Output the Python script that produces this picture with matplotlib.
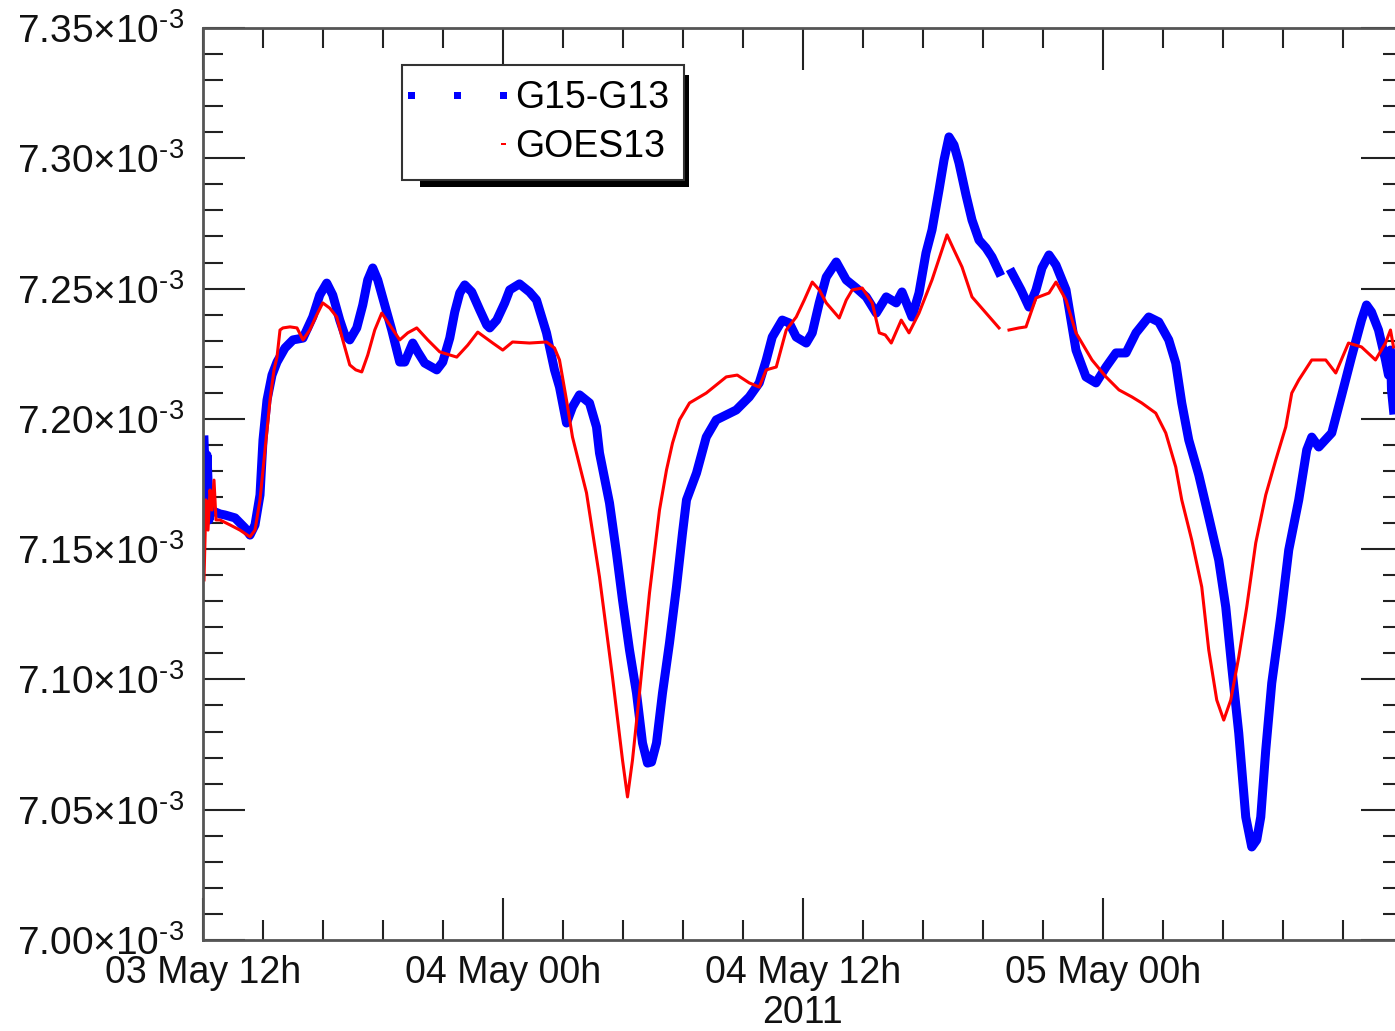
import numpy as np
import matplotlib.pyplot as plt
from matplotlib.lines import Line2D
from matplotlib.patches import Rectangle
from matplotlib.transforms import IdentityTransform
from matplotlib.ticker import MultipleLocator, FixedLocator, FuncFormatter

plt.rcParams['font.family'] = ['Liberation Sans', 'DejaVu Sans']
plt.rcParams['mathtext.fontset'] = 'custom'
plt.rcParams['mathtext.rm'] = 'Liberation Sans'
plt.rcParams['mathtext.it'] = 'Liberation Sans:italic'

# czas w godzinach od 03 May 2011 12:00, wartosci w jednostkach 1e-3
g15_hours = [0.04, 0.08, 0.12, 0.16, 0.20, 0.24, 0.28, 0.36, 0.48, 0.68, 0.88, 1.28, 1.68, 1.88, 2.08,
             2.28, 2.40, 2.56, 2.76, 2.96, 3.28, 3.60, 4.00, 4.19, 4.39, 4.67, 4.95, 5.19, 5.47, 5.67,
             5.87, 6.15, 6.39, 6.59, 6.79, 6.99, 7.27, 7.55, 7.87, 8.07, 8.27, 8.39, 8.59, 8.87, 9.35,
             9.59, 9.87, 10.07, 10.27, 10.47, 10.75, 11.07, 11.35, 11.47, 11.75, 12.07, 12.27, 12.66,
             13.06, 13.34, 13.74, 14.06, 14.26, 14.54, 14.78, 15.06, 15.46, 15.74, 15.86, 16.26, 16.54,
             16.78, 17.06, 17.34, 17.58, 17.78, 17.94, 18.14, 18.38, 18.66, 18.94, 19.18, 19.34, 19.74,
             20.13, 20.53, 20.93, 21.33, 21.85, 22.25, 22.53, 22.77, 23.17, 23.45, 23.73, 24.13, 24.37,
             24.65, 24.93, 25.33, 25.73, 26.13, 26.53, 26.93, 27.33, 27.73, 27.96, 28.36, 28.64, 28.92,
             29.16, 29.44, 29.64, 29.84, 30.04, 30.24, 30.52, 30.76, 31.04, 31.32, 31.56, 31.84, 32.10,
             32.36, 32.72, 33.04, 33.32, 33.56, 33.84, 34.12, 34.52, 34.72, 34.92, 35.32, 35.72, 36.12,
             36.52, 36.92, 37.32, 37.83, 38.23, 38.63, 38.91, 39.15, 39.43, 39.83, 40.23, 40.63, 40.91,
             41.15, 41.43, 41.71, 41.95, 42.15, 42.31, 42.51, 42.75, 43.11, 43.43, 43.83, 44.15, 44.35,
             44.63, 45.15, 45.55, 45.94, 46.34, 46.54, 46.74, 47.02, 47.30, 47.42, 47.50, 47.54, 47.62]
g15_vals = [7.1919, 7.1804, 7.1689, 7.1861, 7.1765, 7.1612, 7.1669, 7.1650, 7.1643, 7.1635, 7.1631,
            7.1620, 7.1581, 7.1554, 7.1593, 7.1708, 7.1919, 7.2072, 7.2168, 7.2218, 7.2272, 7.2303,
            7.2310, 7.2349, 7.2391, 7.2475, 7.2521, 7.2475, 7.2379, 7.2322, 7.2303, 7.2349, 7.2437,
            7.2533, 7.2579, 7.2533, 7.2437, 7.2341, 7.2218, 7.2218, 7.2264, 7.2291, 7.2257, 7.2214,
            7.2188, 7.2218, 7.2310, 7.2410, 7.2483, 7.2514, 7.2487, 7.2418, 7.2360, 7.2349, 7.2379,
            7.2445, 7.2495, 7.2518, 7.2487, 7.2456, 7.2330, 7.2188, 7.2122, 7.1984, 7.2046, 7.2092,
            7.2061, 7.1969, 7.1869, 7.1677, 7.1485, 7.1305, 7.1113, 7.0948, 7.0756, 7.0679, 7.0683,
            7.0756, 7.0948, 7.1140, 7.1355, 7.1562, 7.1689, 7.1792, 7.1930, 7.1996, 7.2015, 7.2034,
            7.2084, 7.2138, 7.2226, 7.2314, 7.2379, 7.2368, 7.2314, 7.2291, 7.2330, 7.2445, 7.2544,
            7.2602, 7.2533, 7.2502, 7.2468, 7.2406, 7.2468, 7.2445, 7.2487, 7.2391, 7.2483, 7.2637,
            7.2725, 7.2878, 7.2993, 7.3082, 7.3051, 7.2982, 7.2859, 7.2763, 7.2686, 7.2656, 7.2621,
            7.2564, np.nan, 7.2560, 7.2495, 7.2429, 7.2495, 7.2579, 7.2629, 7.2590, 7.2495, 7.2379,
            7.2264, 7.2161, 7.2138, 7.2199, 7.2253, 7.2253, 7.2330, 7.2391, 7.2372, 7.2303, 7.2214,
            7.2061, 7.1919, 7.1785, 7.1623, 7.1458, 7.1278, 7.1048, 7.0794, 7.0472, 7.0357, 7.0384,
            7.0472, 7.0729, 7.0986, 7.1240, 7.1497, 7.1689, 7.1881, 7.1930, 7.1892, 7.1946, 7.2092,
            7.2237, 7.2379, 7.2437, 7.2410, 7.2341, 7.2226, 7.2168, 7.2264, 7.2111, 7.2034]

goes13_hours = [0.04, 0.08, 0.12, 0.20, 0.28, 0.36, 0.44, 0.52, 0.68, 1.08, 1.48, 1.88, 2.08, 2.28,
                2.48, 2.68, 2.84, 2.96, 3.08, 3.20, 3.48, 3.76, 4.00, 4.27, 4.55, 4.79, 5.07, 5.35,
                5.59, 5.87, 6.11, 6.35, 6.59, 6.87, 7.15, 7.47, 7.87, 8.19, 8.55, 8.99, 9.47, 10.15,
                10.59, 10.99, 11.59, 11.99, 12.38, 13.06, 13.74, 14.06, 14.26, 14.54, 14.78, 15.06,
                15.34, 15.86, 16.38, 16.78, 16.98, 17.18, 17.46, 17.86, 18.26, 18.54, 18.78, 19.06,
                19.46, 20.13, 20.53, 20.93, 21.37, 21.85, 22.25, 22.53, 22.93, 23.33, 23.73, 24.05,
                24.37, 24.65, 24.93, 25.45, 25.73, 25.97, 26.37, 26.77, 27.05, 27.29, 27.53, 27.93,
                28.24, 28.64, 29.16, 29.56, 29.76, 30.04, 30.36, 30.76, 31.32, 31.84, 32.04, 32.24,
                32.64, 32.92, 33.32, 33.84, 34.12, 34.52, 34.92, 35.56, 36.12, 36.64, 37.16, 37.55,
                38.11, 38.51, 38.91, 39.15, 39.55, 39.95, 40.23, 40.55, 40.83, 41.11, 41.43, 41.75,
                42.11, 42.51, 42.91, 43.31, 43.55, 43.83, 44.35, 44.91, 45.31, 45.82, 46.34, 46.90,
                47.30, 47.50, 47.62]
goes13_vals = [7.1382, 7.1535, 7.1689, 7.1573, 7.1727, 7.1650, 7.1765, 7.1612, 7.1612, 7.1593, 7.1573,
               7.1547, 7.1573, 7.1689, 7.1881, 7.2072, 7.2188, 7.2237, 7.2341, 7.2349, 7.2353, 7.2349,
               7.2303, 7.2341, 7.2399, 7.2445, 7.2425, 7.2391, 7.2303, 7.2207, 7.2188, 7.2180, 7.2245,
               7.2341, 7.2406, 7.2360, 7.2303, 7.2330, 7.2349, 7.2303, 7.2257, 7.2237, 7.2283, 7.2333,
               7.2291, 7.2264, 7.2295, 7.2291, 7.2295, 7.2272, 7.2226, 7.2072, 7.1930, 7.1823, 7.1716,
               7.1393, 7.1009, 7.0691, 7.0549, 7.0691, 7.0948, 7.1332, 7.1650, 7.1804, 7.1907, 7.1996,
               7.2061, 7.2099, 7.2130, 7.2161, 7.2168, 7.2138, 7.2122, 7.2188, 7.2199, 7.2341, 7.2391,
               7.2456, 7.2525, 7.2495, 7.2445, 7.2387, 7.2456, 7.2495, 7.2502, 7.2445, 7.2330, 7.2322,
               7.2291, 7.2379, 7.2330, 7.2406, 7.2533, 7.2648, 7.2706, 7.2648, 7.2583, 7.2468, 7.2406,
               7.2349, np.nan, 7.2341, 7.2349, 7.2353, 7.2464, 7.2483, 7.2525, 7.2456, 7.2330, 7.2226,
               7.2161, 7.2111, 7.2084, 7.2061, 7.2022, 7.1946, 7.1815, 7.1689, 7.1535, 7.1355, 7.1113,
               7.0921, 7.0844, 7.0921, 7.1086, 7.1278, 7.1524, 7.1708, 7.1842, 7.1969, 7.2099, 7.2149,
               7.2226, 7.2226, 7.2176, 7.2291, 7.2276, 7.2226, 7.2291, 7.2341, 7.2276]

tick_hours = [0, 12, 24, 36, 48]
tick_labels = ["03 May 12h", "04 May 00h", "04 May 12h", "05 May 00h", ""]


def y_label(v, pos):
    return r"$\mathregular{%.2f{\times}10^{\text{-}3}}$" % (v * 1e3)


class DotsHandler:
    # kropki w uchwycie legendy, liczone od prawego konca (w punktach)
    def __init__(self, color, offsets, w, h):
        self.color, self.offsets, self.w, self.h = color, offsets, w, h

    def legend_artist(self, legend, orig_handle, fontsize, handlebox):
        x0, y0 = -handlebox.xdescent, -handlebox.ydescent
        xr, yc = x0 + handlebox.width, y0 + handlebox.height / 2
        first = None
        for off in self.offsets:
            p = Rectangle((xr - off - self.w / 2, yc - self.h / 2), self.w, self.h,
                          facecolor=self.color, edgecolor='none', transform=handlebox.get_transform())
            handlebox.add_artist(p)
            first = first or p
        return first


fig = plt.figure(figsize=(13.95, 10.31), dpi=100)
ax = fig.add_axes([203 / 1395, 91 / 1031, 1200 / 1395, 912 / 1031])

ax.plot(g15_hours, np.array(g15_vals) * 1e-3, color='#0000ff', lw=6.5)
ax.plot(goes13_hours, np.array(goes13_vals) * 1e-3, color='#ff0000', lw=2.2)

ax.set_xlim(0, 48)
ax.set_ylim(7.0e-3, 7.35e-3)
ax.xaxis.set_major_locator(FixedLocator(tick_hours))
ax.xaxis.set_minor_locator(MultipleLocator(2.4))
ax.set_xticklabels(tick_labels)
ax.yaxis.set_major_locator(MultipleLocator(0.05e-3))
ax.yaxis.set_minor_locator(MultipleLocator(0.01e-3))
ax.yaxis.set_major_formatter(FuncFormatter(y_label))

ax.tick_params(which='both', direction='in', top=True, right=True, color='#222222', width=1.5,
               labelcolor='#111111')
ax.tick_params(which='major', length=30)
ax.tick_params(which='minor', length=14.5)
ax.tick_params(axis='y', pad=14, labelsize=28)
ax.tick_params(axis='x', pad=11, labelsize=27)
for s in ax.spines.values():
    s.set_linewidth(2)
    s.set_color('#555555')

ax.set_xlabel("2011", fontsize=27, color='#111111', labelpad=3)

# legenda
h1 = Line2D([], [], ls='none', color='#0000ff')
h2 = Line2D([], [], ls='none', color='#ff0000')
leg = ax.legend([h1, h2], ["G15-G13", "GOES13"], loc='upper left', bbox_to_anchor=(0.166, 0.959),
                borderaxespad=0, handlelength=2.3, handletextpad=0.3, borderpad=0.4,
                labelspacing=0.33, fancybox=False, framealpha=1, edgecolor='#333333', fontsize=27,
                handler_map={h1: DotsHandler('#0000ff', [0, 33, 66], 5, 5),
                             h2: DotsHandler('#ff0000', [0], 3.5, 1.5)})
leg.get_frame().set_linewidth(1.5)

fig.canvas.draw()
bb = leg.get_window_extent()
ax.add_patch(Rectangle((bb.x0 + 18, bb.y0 - 7), bb.width - 13, 7, transform=IdentityTransform(),
                       facecolor='black', edgecolor='none', zorder=4.9, clip_on=False))
ax.add_patch(Rectangle((bb.x1, bb.y0 - 7), 5, bb.height - 3, transform=IdentityTransform(),
                       facecolor='black', edgecolor='none', zorder=4.9, clip_on=False))

fig.savefig("out.png", dpi=100)
